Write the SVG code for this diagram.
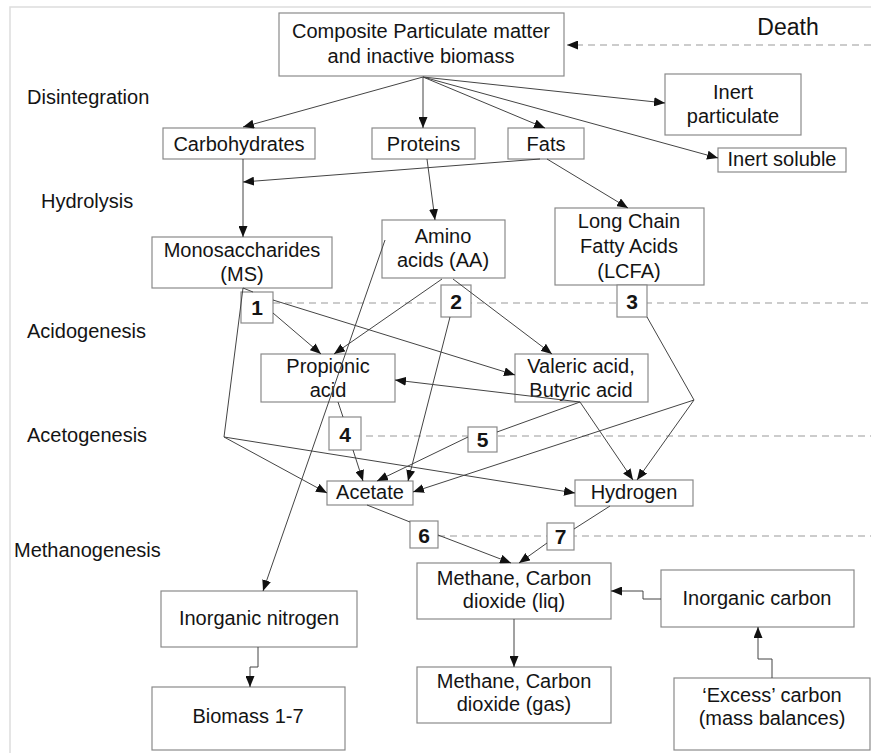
<svg xmlns="http://www.w3.org/2000/svg" width="871" height="753" viewBox="0 0 871 753">
<style>
text{font-family:"Liberation Sans",Arial,sans-serif;font-size:20px;fill:#141414;text-anchor:middle}
.lbl{text-anchor:start}
.num{font-size:21px;font-weight:bold}
.box{fill:#fff;stroke:#8a8a8a;stroke-width:1.2}
.c{fill:none;stroke:#444;stroke-width:1}
.ca{fill:none;stroke:#444;stroke-width:1;marker-end:url(#ah)}
.d{fill:none;stroke:#999;stroke-width:1.2;stroke-dasharray:7 5}
</style>
<defs>
<marker id="ah" markerWidth="11" markerHeight="9" refX="11" refY="4.5" orient="auto" markerUnits="userSpaceOnUse">
<path d="M0,0 L11,4.5 L0,9 z" fill="#111"/>
</marker>
</defs>
<rect x="0" y="0" width="871" height="753" fill="#fff"/>
<rect x="10" y="7" width="880" height="770" fill="none" stroke="#ddd" stroke-width="1.5"/>

<g id="stages">
<text class="lbl" x="27" y="104">Disintegration</text>
<text class="lbl" x="41" y="208">Hydrolysis</text>
<text class="lbl" x="27" y="338">Acidogenesis</text>
<text class="lbl" x="27" y="442">Acetogenesis</text>
<text class="lbl" x="14" y="557">Methanogenesis</text>
<text x="788" y="35" style="font-size:23px">Death</text>
</g>

<g id="dashed">
<path class="d" d="M871,45 L567,45" style="marker-end:url(#ah)"/>
<path class="d" d="M273,303 L871,303"/>
<path class="d" d="M366,436 L871,436"/>
<path class="d" d="M438,536 L871,536"/>
</g>

<g id="n-composite"><rect class="box" x="279" y="13" width="285" height="63"/><text x="421" y="38">Composite Particulate matter</text><text x="421" y="63">and inactive biomass</text></g>
<g id="n-carbohydrates"><rect class="box" x="163" y="128" width="152" height="31"/><text x="239" y="151">Carbohydrates</text></g>
<g id="n-proteins"><rect class="box" x="372" y="128" width="103" height="31"/><text x="423.5" y="151">Proteins</text></g>
<g id="n-fats"><rect class="box" x="508" y="128" width="76" height="31"/><text x="546" y="151">Fats</text></g>
<g id="n-inert-particulate"><rect class="box" x="665" y="74" width="136" height="61"/><text x="733" y="99">Inert</text><text x="733" y="123">particulate</text></g>
<g id="n-inert-soluble"><rect class="box" x="718" y="148" width="128" height="24"/><text x="782" y="166">Inert soluble</text></g>
<g id="n-ms"><rect class="box" x="152" y="237" width="180" height="51"/><text x="242" y="257">Monosaccharides</text><text x="242" y="281">(MS)</text></g>
<g id="n-aa"><rect class="box" x="382" y="220" width="123" height="58"/><text x="443" y="243">Amino</text><text x="443" y="267">acids (AA)</text></g>
<g id="n-lcfa"><rect class="box" x="555" y="208" width="149" height="77"/><text x="629" y="228">Long Chain</text><text x="629" y="253">Fatty Acids</text><text x="629" y="278">(LCFA)</text></g>
<g id="n-1"><rect class="box" x="241" y="292" width="32" height="31"/><text class="num" x="257" y="315">1</text></g>
<g id="n-2"><rect class="box" x="441" y="285" width="30" height="32"/><text class="num" x="456" y="309">2</text></g>
<g id="n-3"><rect class="box" x="617" y="285" width="30" height="32"/><text class="num" x="632" y="309">3</text></g>
<g id="n-propionic"><rect class="box" x="261" y="354" width="134" height="48"/><text x="328" y="373">Propionic</text><text x="328" y="397">acid</text></g>
<g id="n-valeric"><rect class="box" x="515" y="354" width="133" height="48"/><text x="581" y="373">Valeric acid,</text><text x="581" y="397">Butyric acid</text></g>
<g id="n-4"><rect class="box" x="329" y="417" width="32" height="33"/><text class="num" x="345" y="442">4</text></g>
<g id="n-5"><rect class="box" x="468" y="427" width="29" height="25"/><text class="num" x="482.5" y="447">5</text></g>
<g id="n-acetate"><rect class="box" x="327" y="481" width="86" height="24"/><text x="370" y="499">Acetate</text></g>
<g id="n-hydrogen"><rect class="box" x="575" y="480" width="118" height="26"/><text x="634" y="499">Hydrogen</text></g>
<g id="n-6"><rect class="box" x="410" y="521" width="28" height="27"/><text class="num" x="424" y="543">6</text></g>
<g id="n-7"><rect class="box" x="547" y="523" width="27" height="27"/><text class="num" x="560.5" y="544">7</text></g>
<g id="n-methane-liq"><rect class="box" x="417" y="563" width="194" height="56"/><text x="514" y="585">Methane, Carbon</text><text x="514" y="608">dioxide (liq)</text></g>
<g id="n-inorganic-carbon"><rect class="box" x="661" y="570" width="193" height="57"/><text x="757" y="605">Inorganic carbon</text></g>
<g id="n-methane-gas"><rect class="box" x="417" y="667" width="194" height="56"/><text x="514" y="688">Methane, Carbon</text><text x="514" y="711">dioxide (gas)</text></g>
<g id="n-excess"><rect class="box" x="674" y="678" width="196" height="72"/><text x="772" y="702">‘Excess’ carbon</text><text x="772" y="725">(mass balances)</text></g>
<g id="n-inorganic-nitrogen"><rect class="box" x="161" y="591" width="196" height="56"/><text x="259" y="625">Inorganic nitrogen</text></g>
<g id="n-biomass"><rect class="box" x="152" y="687" width="193" height="63"/><text x="248" y="723">Biomass 1-7</text></g>

<g id="connectors">
<path class="ca" d="M423,77 L243,127"/>
<path class="ca" d="M423,77 L423,128"/>
<path class="ca" d="M423,77 L545,128"/>
<path class="ca" d="M423,77 L665,103"/>
<path class="ca" d="M423,77 L718,158"/>
<path class="ca" d="M540,159 L243,182"/>
<path class="ca" d="M243,159 L243,237"/>
<path class="ca" d="M427,159 L435,220"/>
<path class="ca" d="M547,159 L628,208"/>
<path class="c" d="M243,288 L253,292"/>
<path class="c" d="M243,288 L224,437"/>
<path class="ca" d="M224,437 L327,493"/>
<path class="ca" d="M224,437 L575,493"/>
<path class="ca" d="M273,313 L321,354"/>
<path class="ca" d="M273,300 L515,375"/>
<path class="ca" d="M442,279 L334,354"/>
<path class="ca" d="M453,279 L552,354"/>
<path class="ca" d="M450,317 L408,481"/>
<path class="ca" d="M385,240 L263,591"/>
<path class="ca" d="M580,402 L395,380"/>
<path class="c" d="M580,402 L497,432"/>
<path class="ca" d="M468,437 L377,481"/>
<path class="ca" d="M580,402 L633,480"/>
<path class="c" d="M647,317 L694,400"/>
<path class="ca" d="M694,400 L637,480"/>
<path class="ca" d="M694,400 L413,492"/>
<path class="c" d="M338,402 L343,417"/>
<path class="ca" d="M353,450 L363,481"/>
<path class="c" d="M367,505 L410,522"/>
<path class="ca" d="M438,535 L511,563"/>
<path class="c" d="M610,506 L574,529"/>
<path class="ca" d="M547,543 L519,563"/>
<path class="ca" d="M514,619 L514,667"/>
<path class="ca" d="M661,599 L643,599 L643,591 L611,591"/>
<path class="ca" d="M772,678 L772,659 L758,659 L758,627"/>
<path class="ca" d="M258,647 L258,667 L250,667 L250,687"/>
</g>
</svg>
